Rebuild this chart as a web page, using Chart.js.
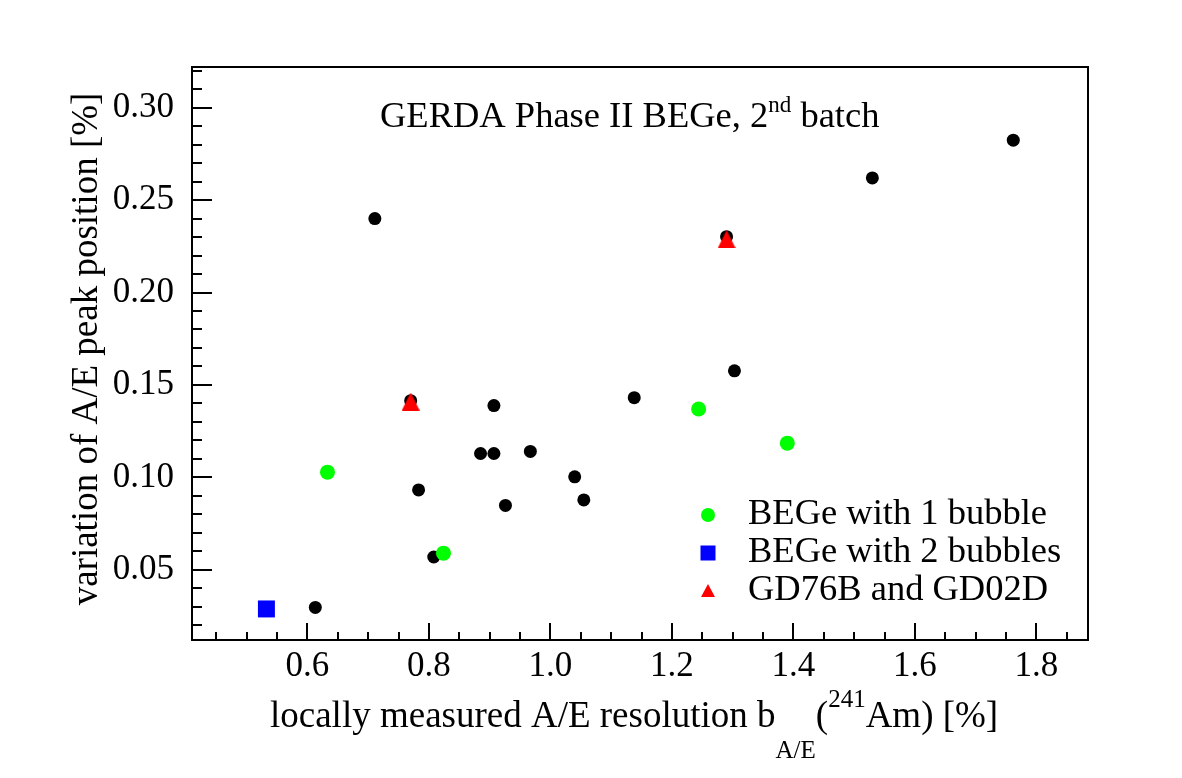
<!DOCTYPE html>
<html>
<head>
<meta charset="utf-8">
<script src="https://cdn.jsdelivr.net/npm/chart.js@4.4.0/dist/chart.umd.min.js"></script>
<style>
  html, body { margin: 0; padding: 0; background: #fff; }
</style>
</head>
<body>
<canvas id="chart" width="1182" height="778"></canvas>
<script>
// data
const otherX = [0.711, 0.770, 1.290, 1.762, 1.530, 1.303, 1.138, 0.907, 0.885, 0.907, 0.967, 1.040, 1.055, 0.926, 0.783, 0.808, 0.613];
const otherY = [0.240, 0.1415, 0.2302, 0.2824, 0.262, 0.1576, 0.1431, 0.1388, 0.1129, 0.1129, 0.114, 0.1003, 0.0878, 0.0848, 0.0932, 0.0569, 0.0296];
const oneBubbleX = [0.633, 0.824, 1.244, 1.390];
const oneBubbleY = [0.1028, 0.059, 0.137, 0.1185];
const twoBubbleX = [0.5325];
const twoBubbleY = [0.0288];
const gdX = [0.770, 1.290];
const gdY = [0.141, 0.2288];

const xTicks = [0.6, 0.8, 1.0, 1.2, 1.4, 1.6, 1.8];
const yTicks = [0.05, 0.10, 0.15, 0.20, 0.25, 0.30];
const legendLabels = ['BEGe with 1 bubble', 'BEGe with 2 bubbles', 'GD76B and GD02D'];

const FONT = '"Liberation Serif", "DejaVu Serif", serif';

function toPoints(xs, ys) {
    return xs.map((x, i) => ({ x: x, y: ys[i] }));
}

// centred triangle (Chart.js' own triangle sits off-centre)
function makeTriangle(w, h) {
    const c = document.createElement('canvas');
    c.width = w; c.height = h;
    const g = c.getContext('2d');
    g.fillStyle = '#ff0000';
    g.beginPath();
    g.moveTo(w / 2, 0);
    g.lineTo(w, h);
    g.lineTo(0, h);
    g.closePath();
    g.fill();
    return c;
}
const triangleImg = makeTriangle(18, 18);

const framePlugin = {
    id: 'rootFrame',
    afterDatasetsDraw(chart) {
        const ctx = chart.ctx;
        const a = chart.chartArea;
        const xs = chart.scales.x;
        const ys = chart.scales.y;
        ctx.save();
        ctx.strokeStyle = '#000';
        ctx.lineWidth = 2;
        ctx.strokeRect(a.left, a.top, a.right - a.left, a.bottom - a.top);

        // inward ticks
        ctx.beginPath();
        for (let v = 0.45; v < xs.max; v += 0.05) {
            const px = Math.round(xs.getPixelForValue(v));
            const major = xTicks.some(t => Math.abs(t - v) < 1e-6);
            ctx.moveTo(px, a.bottom);
            ctx.lineTo(px, a.bottom - (major ? 17 : 8));
        }
        for (let v = 0.02; v < ys.max; v += 0.01) {
            const py = Math.round(ys.getPixelForValue(v));
            const major = yTicks.some(t => Math.abs(t - v) < 1e-6);
            ctx.moveTo(a.left, py);
            ctx.lineTo(a.left + (major ? 20 : 10), py);
        }
        ctx.stroke();

        ctx.fillStyle = '#000';
        ctx.textBaseline = 'alphabetic';
        ctx.textAlign = 'left';

        // title
        let x = 380;
        ctx.font = '36.5px ' + FONT;
        ctx.fillText('GERDA Phase II BEGe, 2', x, 127);
        x += ctx.measureText('GERDA Phase II BEGe, 2').width;
        ctx.font = '23px ' + FONT;
        ctx.fillText('nd', x, 112);
        x += ctx.measureText('nd').width;
        ctx.font = '36.5px ' + FONT;
        ctx.fillText(' batch', x, 127);

        // x axis title
        x = 270;
        ctx.font = '37px ' + FONT;
        ctx.fillText('locally measured A/E resolution b', x, 727);
        x += ctx.measureText('locally measured A/E resolution b').width;
        ctx.font = '25px ' + FONT;
        ctx.fillText('A/E', x, 758);
        x += ctx.measureText('A/E').width;
        ctx.font = '37px ' + FONT;
        ctx.fillText('(', x, 727);
        x += ctx.measureText('(').width;
        ctx.font = '25px ' + FONT;
        ctx.fillText('241', x, 707);
        x += ctx.measureText('241').width;
        ctx.font = '37px ' + FONT;
        ctx.fillText('Am) [%]', x, 727);

        // y axis title
        ctx.save();
        ctx.translate(97, 349);
        ctx.rotate(-Math.PI / 2);
        ctx.textAlign = 'center';
        ctx.font = '37px ' + FONT;
        ctx.fillText('variation of A/E peak position [%]', 0, 0);
        ctx.restore();

        // legend
        const lx = 708;
        const rows = [515, 553, 591];
        ctx.fillStyle = '#00ff00';
        ctx.beginPath();
        ctx.arc(lx, rows[0], 7, 0, Math.PI * 2);
        ctx.fill();
        ctx.fillStyle = '#0000ff';
        ctx.fillRect(lx - 7.5, rows[1] - 7.5, 15, 15);
        ctx.fillStyle = '#ff0000';
        ctx.beginPath();
        ctx.moveTo(lx, rows[2] - 7);
        ctx.lineTo(lx + 7, rows[2] + 6);
        ctx.lineTo(lx - 7, rows[2] + 6);
        ctx.closePath();
        ctx.fill();
        ctx.fillStyle = '#000';
        ctx.font = '36.5px ' + FONT;
        legendLabels.forEach((t, i) => ctx.fillText(t, 748, rows[i] + 9));
        ctx.restore();
    }
};

new Chart(document.getElementById('chart'), {
    type: 'scatter',
    data: {
        datasets: [
            { label: 'GD76B and GD02D', data: toPoints(gdX, gdY), pointStyle: triangleImg, pointRadius: 9, order: 1 },
            { label: 'BEGe with 2 bubbles', data: toPoints(twoBubbleX, twoBubbleY), pointStyle: 'rect', pointRadius: 12, backgroundColor: '#0000ff', borderWidth: 0, order: 2 },
            { label: 'BEGe with 1 bubble', data: toPoints(oneBubbleX, oneBubbleY), pointStyle: 'circle', pointRadius: 7.5, backgroundColor: '#00ff00', borderWidth: 0, order: 3 },
            { label: 'other', data: toPoints(otherX, otherY), pointStyle: 'circle', pointRadius: 6.5, backgroundColor: '#000000', borderWidth: 0, order: 4 }
        ]
    },
    options: {
        responsive: false,
        animation: false,
        layout: { padding: { left: 0, top: 67, right: 94, bottom: 0 } },
        plugins: { legend: { display: false }, tooltip: { enabled: false } },
        scales: {
            x: {
                type: 'linear',
                min: 0.41,
                max: 1.885,
                grid: { display: false },
                border: { display: false },
                afterBuildTicks: s => { s.ticks = xTicks.map(v => ({ value: v })); },
                afterFit: s => { s.height = 138; },
                ticks: {
                    autoSkip: false,
                    maxRotation: 0,
                    padding: -2,
                    color: '#000',
                    font: { family: FONT, size: 35 },
                    callback: v => Number(v).toFixed(1)
                }
            },
            y: {
                type: 'linear',
                min: 0.012,
                max: 0.322,
                grid: { display: false },
                border: { display: false },
                afterBuildTicks: s => { s.ticks = yTicks.map(v => ({ value: v })); },
                afterFit: s => { s.width = 192; },
                ticks: {
                    autoSkip: false,
                    padding: 10,
                    color: '#000',
                    font: { family: FONT, size: 35 },
                    callback: v => Number(v).toFixed(2)
                }
            }
        }
    },
    plugins: [framePlugin]
});
</script>
</body>
</html>
